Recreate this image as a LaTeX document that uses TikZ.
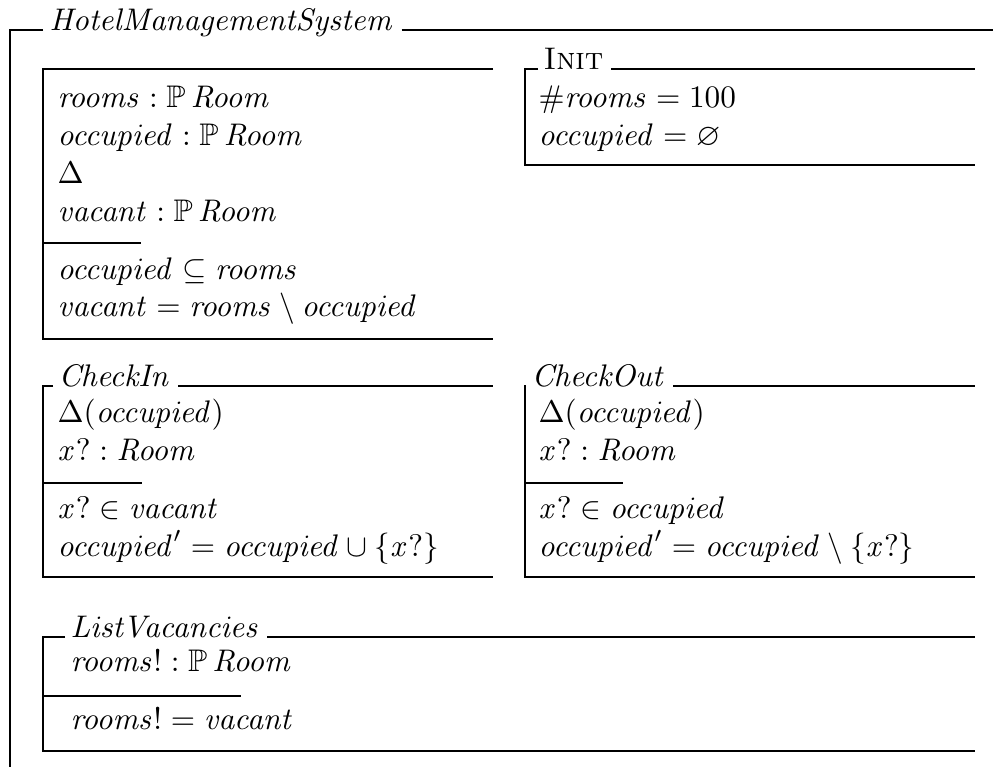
\documentclass[tikz,border=0pt]{standalone}
\usepackage{amssymb}
% identifiers are set in text italic, as Z style files do
\newcommand{\zid}[1]{\mathit{#1}}
\begin{document}
\begin{tikzpicture}[x=0.32pt,y=-0.32pt,
  zl/.style={line width=0.65pt},
  zt/.style={anchor=base west, inner sep=0pt, font=\fontsize{10}{12}\selectfont}]
\useasboundingbox (0,0) rectangle (993,767);

% outer schema HotelManagementSystem
\node[zt] (tHMS) at (49,30) {$\zid{HotelManagementSystem}$};
\draw[zl] (tHMS.base west) ++(-6,0) -- (10,30) -- (10,767);
\draw[zl] (tHMS.base east) ++(7,0) -- (993,30);

% state schema
\draw[zl] (493,69) -- (43,69) -- (43,339) -- (493,339);
\draw[zl] (43,243) -- (141,243);
\node[zt] (s1) at (57,107) {$\zid{rooms} : \mathbb{P}\,\zid{Room}$};
\node[zt] (s2) at (57,145) {$\zid{occupied} : \mathbb{P}\,\zid{Room}$};
\node[zt] (s3) at (57,183) {$\Delta$};
\node[zt] (s4) at (57,221) {$\zid{vacant} : \mathbb{P}\,\zid{Room}$};
\node[zt] (s5) at (57,279) {$\zid{occupied} \subseteq \zid{rooms}$};
\node[zt] (s6) at (57,316) {$\zid{vacant} = \zid{rooms} \setminus \zid{occupied}$};

% Init
\node[zt] (tInit) at (543,69) {\textsc{Init}};
\draw[zl] (tInit.base west) ++(-5,0) -- (525,69) -- (525,165) -- (975,165);
\draw[zl] (tInit.base east) ++(7,0) -- (975,69);
\node[zt] (i1) at (538,107) {$\#\zid{rooms} = 100$};
\node[zt] (i2) at (538,145) {$\zid{occupied} = \varnothing$};

% CheckIn
\node[zt] (tCI) at (58,386) {$\zid{CheckIn}$};
\draw[zl] (tCI.base west) ++(-5,0) -- (43,386) -- (43,577) -- (493,577);
\draw[zl] (tCI.base east) ++(7,0) -- (493,386);
\draw[zl] (43,483) -- (142,483);
\node[zt] (c1) at (57,422) {$\Delta(\zid{occupied})$};
\node[zt] (c2) at (57,460) {$\zid{x}? : \zid{Room}$};
\node[zt] (c3) at (57,518) {$\zid{x}? \in \zid{vacant}$};
\node[zt] (c4) at (57,556) {$\zid{occupied}' = \zid{occupied} \cup \{\zid{x}?\}$};

% CheckOut
\node[zt] (tCO) at (531,386) {$\zid{CheckOut}$};
\draw[zl] (tCO.base west) ++(-5,0) -- (525,386) -- (525,577) -- (975,577);
\draw[zl] (tCO.base east) ++(7,0) -- (975,386);
\draw[zl] (525,483) -- (623,483);
\node[zt] (o1) at (538,422) {$\Delta(\zid{occupied})$};
\node[zt] (o2) at (538,460) {$\zid{x}? : \zid{Room}$};
\node[zt] (o3) at (538,518) {$\zid{x}? \in \zid{occupied}$};
\node[zt] (o4) at (538,556) {$\zid{occupied}' = \zid{occupied} \setminus \{\zid{x}?\}$};

% ListVacancies
\node[zt] (tLV) at (70,637) {$\zid{ListVacancies}$};
\draw[zl] (tLV.base west) ++(-5,0) -- (43,637) -- (43,751) -- (975,751);
\draw[zl] (tLV.base east) ++(7,0) -- (975,637);
\draw[zl] (43,696) -- (241,696);
\node[zt] (l1) at (70,671) {$\zid{rooms}! : \mathbb{P}\,\zid{Room}$};
\node[zt] (l2) at (70,729) {$\zid{rooms}! = \zid{vacant}$};
\end{tikzpicture}
\end{document}
